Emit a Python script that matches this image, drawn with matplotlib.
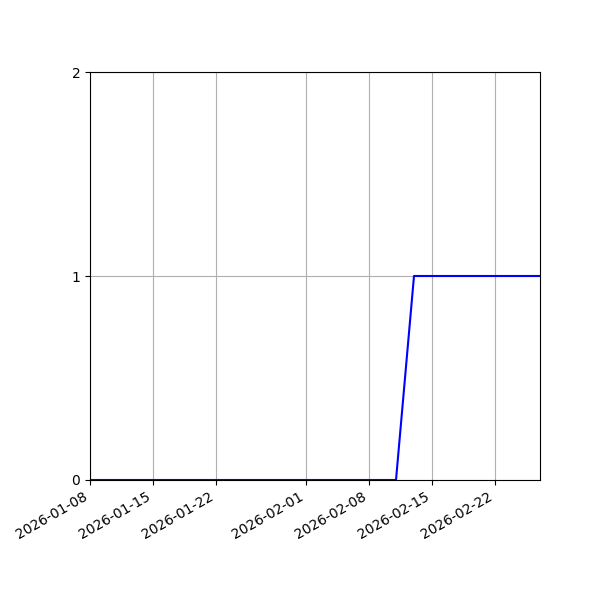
import numpy as np
import matplotlib
matplotlib.use("Agg")
import matplotlib.pyplot as plt
import matplotlib.dates as mdates
from datetime import datetime

# readings (date, count)
dates = ["2026-01-08", "2026-01-15", "2026-01-22", "2026-02-01",
         "2026-02-08", "2026-02-11", "2026-02-13", "2026-02-20", "2026-02-27"]
counts = [0, 0, 0, 0, 0, 0, 1, 1, 1]
y_ticks = [0, 1, 2]

x = [datetime.strptime(d, "%Y-%m-%d") for d in dates]

fig, ax = plt.subplots(figsize=(6, 6), dpi=100)
ax.plot(x, counts, color="b")

ax.set_xlim(x[0], x[-1])
ax.set_ylim(0, 2)
ax.set_yticks(y_ticks)
ax.xaxis.set_major_formatter(mdates.DateFormatter("%Y-%m-%d"))
ax.grid(True)

fig.autofmt_xdate()
fig.subplots_adjust(left=0.15, right=0.9, top=0.88, bottom=0.2)
fig.savefig("out.png")
